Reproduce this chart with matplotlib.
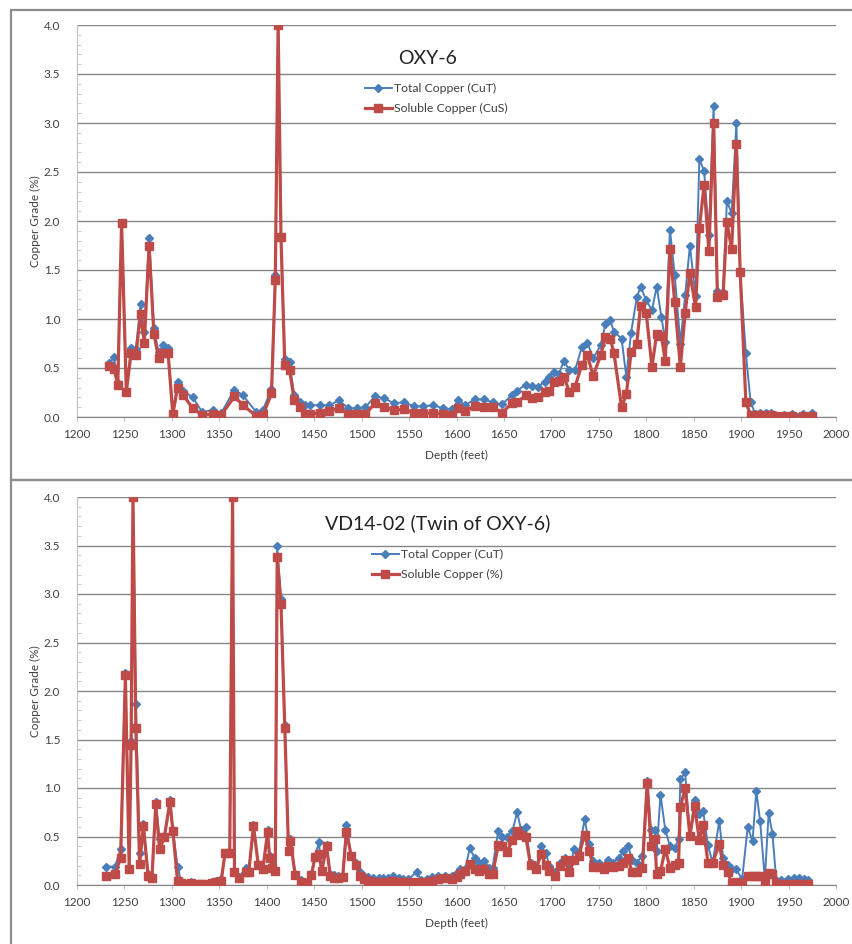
import matplotlib
matplotlib.use("Agg")
import matplotlib.pyplot as plt
from matplotlib.ticker import MultipleLocator
from matplotlib.patches import Rectangle

plt.rcParams['font.family'] = ['Lato', 'DejaVu Sans']

# OXY-6 (top)
depth_oxy = [1234, 1239, 1243, 1247, 1252, 1257, 1262, 1267, 1271, 1276,
             1281, 1286, 1291, 1296, 1301, 1306, 1312, 1322, 1332, 1343,
             1352, 1366, 1375, 1389, 1396, 1405, 1409, 1412, 1415, 1419,
             1424, 1429, 1435, 1440, 1446, 1456, 1466, 1476, 1486, 1495,
             1504, 1514, 1524, 1534, 1545, 1555, 1565, 1575, 1586, 1595,
             1602, 1609, 1619, 1629, 1638, 1648, 1658, 1664, 1673, 1680,
             1686, 1693, 1698, 1703, 1708, 1713, 1719, 1725, 1732, 1738,
             1744, 1752, 1757, 1762, 1766, 1774, 1779, 1784, 1790, 1794,
             1800, 1806, 1811, 1816, 1820, 1825, 1830, 1836, 1841, 1846,
             1852, 1856, 1861, 1866, 1871, 1875, 1881, 1885, 1890, 1895,
             1899, 1905, 1910, 1915, 1920, 1926, 1931, 1936, 1945, 1954,
             1965, 1975]
cut_oxy = [0.55, 0.61, 0.35, 1.98, 0.26, 0.70, 0.69, 1.15, 0.87, 1.83,
           0.91, 0.66, 0.73, 0.70, 0.04, 0.36, 0.27, 0.20, 0.05, 0.07,
           0.04, 0.28, 0.22, 0.05, 0.07, 0.29, 1.45, 4.00, 1.84, 0.59,
           0.56, 0.22, 0.15, 0.12, 0.12, 0.12, 0.12, 0.17, 0.09, 0.09,
           0.10, 0.21, 0.19, 0.14, 0.15, 0.11, 0.11, 0.12, 0.09, 0.08,
           0.17, 0.12, 0.18, 0.18, 0.15, 0.13, 0.22, 0.27, 0.33, 0.32,
           0.31, 0.36, 0.41, 0.46, 0.44, 0.57, 0.48, 0.48, 0.71, 0.76,
           0.60, 0.73, 0.95, 0.99, 0.87, 0.80, 0.41, 0.86, 1.22, 1.33,
           1.19, 1.09, 1.33, 1.02, 0.77, 1.91, 1.45, 0.75, 1.24, 1.75,
           1.23, 2.63, 2.51, 1.86, 3.17, 1.29, 1.28, 2.20, 2.08, 3.00,
           1.48, 0.65, 0.15, 0.03, 0.04, 0.04, 0.04, 0.02, 0.02, 0.03,
           0.03, 0.04]
cus_oxy = [0.52, 0.49, 0.33, 1.98, 0.26, 0.65, 0.63, 1.05, 0.76, 1.75,
           0.85, 0.60, 0.65, 0.65, 0.03, 0.30, 0.22, 0.09, 0.02, 0.03,
           0.02, 0.21, 0.12, 0.01, 0.02, 0.24, 1.40, 4.00, 1.84, 0.53,
           0.48, 0.17, 0.10, 0.03, 0.03, 0.04, 0.06, 0.09, 0.03, 0.03,
           0.03, 0.14, 0.10, 0.07, 0.08, 0.04, 0.04, 0.04, 0.03, 0.02,
           0.09, 0.06, 0.11, 0.10, 0.10, 0.04, 0.14, 0.15, 0.22, 0.19,
           0.20, 0.26, 0.27, 0.36, 0.37, 0.41, 0.26, 0.31, 0.53, 0.63,
           0.42, 0.63, 0.82, 0.80, 0.65, 0.10, 0.23, 0.66, 0.75, 1.13,
           1.06, 0.51, 0.85, 0.83, 0.57, 1.71, 1.17, 0.51, 1.06, 1.47,
           1.12, 1.93, 2.37, 1.69, 3.00, 1.22, 1.25, 1.99, 1.71, 2.79,
           1.48, 0.15, 0.02, 0.02, 0.02, 0.02, 0.02, 0.01, 0.01, 0.01,
           0.01, 0.01]

# VD14-02 (bottom)
depth_vd = [1231, 1240, 1246, 1251, 1255, 1257, 1259, 1262, 1266, 1270,
            1275, 1279, 1283, 1287, 1292, 1298, 1301, 1306, 1310, 1315,
            1320, 1326, 1331, 1336, 1342, 1347, 1352, 1356, 1361, 1364,
            1366, 1371, 1378, 1381, 1386, 1391, 1396, 1401, 1403, 1406,
            1409, 1411, 1415, 1419, 1423, 1425, 1430, 1436, 1442, 1447,
            1451, 1455, 1458, 1463, 1467, 1471, 1475, 1480, 1484, 1489,
            1494, 1498, 1502, 1507, 1512, 1518, 1523, 1528, 1533, 1539,
            1544, 1549, 1558, 1563, 1569, 1574, 1581, 1588, 1595, 1600,
            1604, 1609, 1614, 1619, 1624, 1629, 1634, 1638, 1644, 1648,
            1653, 1659, 1664, 1668, 1673, 1678, 1684, 1689, 1694, 1698,
            1704, 1709, 1714, 1719, 1724, 1729, 1735, 1740, 1744, 1750,
            1755, 1760, 1765, 1771, 1776, 1781, 1785, 1790, 1796, 1801,
            1805, 1809, 1811, 1815, 1820, 1825, 1830, 1834, 1836, 1841,
            1846, 1851, 1856, 1860, 1865, 1870, 1877, 1881, 1886, 1890,
            1895, 1901, 1907, 1912, 1916, 1920, 1925, 1929, 1933, 1937,
            1942, 1949, 1956, 1961, 1966, 1971]
cut_vd = [0.19, 0.19, 0.37, 2.19, 0.18, 1.48, 4.00, 1.87, 0.33, 0.63,
          0.11, 0.08, 0.86, 0.47, 0.50, 0.88, 0.57, 0.19, 0.02, 0.01,
          0.03, 0.01, 0.01, 0.01, 0.03, 0.04, 0.06, 0.33, 0.33, 4.00,
          0.14, 0.08, 0.18, 0.13, 0.62, 0.21, 0.18, 0.57, 0.30, 0.20,
          0.14, 3.49, 2.95, 1.65, 0.37, 0.47, 0.11, 0.05, 0.03, 0.11,
          0.30, 0.44, 0.14, 0.41, 0.11, 0.10, 0.09, 0.09, 0.62, 0.30,
          0.23, 0.13, 0.09, 0.08, 0.07, 0.07, 0.07, 0.07, 0.09, 0.07,
          0.06, 0.06, 0.13, 0.05, 0.06, 0.08, 0.09, 0.09, 0.09, 0.12,
          0.16, 0.16, 0.38, 0.28, 0.23, 0.25, 0.18, 0.18, 0.56, 0.50,
          0.50, 0.56, 0.75, 0.57, 0.60, 0.23, 0.18, 0.40, 0.33, 0.20,
          0.13, 0.23, 0.28, 0.16, 0.37, 0.33, 0.68, 0.42, 0.25, 0.23,
          0.19, 0.26, 0.23, 0.28, 0.35, 0.40, 0.26, 0.23, 0.30, 1.07,
          0.57, 0.57, 0.35, 0.93, 0.57, 0.40, 0.38, 0.47, 1.09, 1.16,
          0.52, 0.88, 0.73, 0.76, 0.41, 0.23, 0.66, 0.28, 0.21, 0.16,
          0.16, 0.06, 0.60, 0.45, 0.97, 0.66, 0.06, 0.74, 0.53, 0.05,
          0.05, 0.06, 0.07, 0.07, 0.06, 0.05]
cus_vd = [0.09, 0.11, 0.28, 2.16, 0.17, 1.44, 4.00, 1.62, 0.22, 0.61,
          0.09, 0.07, 0.83, 0.37, 0.49, 0.86, 0.56, 0.04, 0.02, 0.01,
          0.02, 0.01, 0.01, 0.01, 0.02, 0.03, 0.04, 0.33, 0.33, 4.00,
          0.13, 0.07, 0.13, 0.13, 0.61, 0.21, 0.17, 0.55, 0.28, 0.18,
          0.14, 3.38, 2.90, 1.62, 0.35, 0.45, 0.10, 0.03, 0.02, 0.10,
          0.29, 0.32, 0.14, 0.40, 0.09, 0.07, 0.07, 0.08, 0.55, 0.30,
          0.21, 0.09, 0.06, 0.04, 0.03, 0.03, 0.03, 0.03, 0.04, 0.03,
          0.03, 0.03, 0.03, 0.03, 0.03, 0.04, 0.06, 0.07, 0.06, 0.08,
          0.11, 0.14, 0.22, 0.16, 0.14, 0.16, 0.11, 0.11, 0.41, 0.40,
          0.34, 0.46, 0.56, 0.52, 0.50, 0.21, 0.16, 0.32, 0.21, 0.14,
          0.09, 0.20, 0.26, 0.13, 0.26, 0.30, 0.52, 0.35, 0.19, 0.19,
          0.16, 0.20, 0.19, 0.20, 0.23, 0.28, 0.13, 0.13, 0.18, 1.05,
          0.40, 0.47, 0.11, 0.14, 0.37, 0.18, 0.21, 0.23, 0.80, 1.00,
          0.51, 0.81, 0.46, 0.62, 0.23, 0.23, 0.42, 0.21, 0.13, 0.02,
          0.03, 0.02, 0.09, 0.09, 0.09, 0.09, 0.03, 0.12, 0.11, 0.02,
          0.01, 0.01, 0.01, 0.01, 0.01, 0.01]

BLUE = '#4A7EBB'
RED = '#BE4B48'
W, H = 852, 944

fig = plt.figure(figsize=(8.52, 9.44), dpi=100)

# outer panel borders (pixel -> figure fraction)
for top, bot in [(10, 480), (480, 946)]:
    fig.add_artist(Rectangle((11 / W, 1 - bot / H), 1.0, (bot - top) / H,
                             transform=fig.transFigure, fill=False,
                             edgecolor='#8c8c8c', linewidth=1.6))

panels = [
    (depth_oxy, cut_oxy, cus_oxy, 'OXY-6', 'Soluble Copper (CuS)', 25, 417, (428, 58), (365, 83)),
    (depth_vd, cut_vd, cus_vd, 'VD14-02 (Twin of OXY-6)', 'Soluble Copper (%)', 497, 885, (438, 523), (372, 549)),
]

for depth, cut, cus, title, sol_label, ytop, ybot, tpos, lpos in panels:
    ax = fig.add_axes([77 / W, 1 - ybot / H, (836 - 77) / W, (ybot - ytop) / H])
    ax.plot(depth, cut, color=BLUE, lw=1.4, marker='D', ms=3.6,
            label='Total Copper (CuT)', zorder=3)
    ax.plot(depth, cus, color=RED, lw=2.3, marker='s', ms=5.4,
            label=sol_label, zorder=4)

    ax.set_xlim(1200, 2000)
    ax.set_ylim(0, 4.0)
    ax.xaxis.set_major_locator(MultipleLocator(50))
    ax.yaxis.set_major_locator(MultipleLocator(0.5))
    ax.yaxis.set_minor_locator(MultipleLocator(0.1))
    ax.yaxis.set_major_formatter(plt.FormatStrFormatter('%.1f'))
    ax.grid(axis='y', color='#868686', lw=1.0)
    ax.set_axisbelow(True)

    for s in ['top', 'right']:
        ax.spines[s].set_visible(False)
    ax.spines['left'].set_color('#c0c0c0')
    ax.spines['bottom'].set_color('#868686')
    ax.tick_params(axis='y', which='major', length=0, pad=12, labelsize=8.5, labelcolor='#404040')
    ax.tick_params(axis='y', which='minor', direction='in', length=3, color='#c0c0c0')
    ax.tick_params(axis='x', length=3, color='#c0c0c0', pad=6, labelsize=8.5, labelcolor='#404040')

    ax.set_ylabel('Copper Grade (%)', fontsize=8.5, color='#404040')
    ax.yaxis.set_label_coords((41 - 77) / (836 - 77), 0.5)
    ax.set_xlabel('Depth (feet)', fontsize=8.5, color='#404040')
    ax.xaxis.set_label_coords(0.5, -0.085)

    ax.text((tpos[0] - 77) / (836 - 77), (ybot - tpos[1]) / (ybot - ytop), title,
            transform=ax.transAxes, ha='center', va='center', fontsize=14, color='#222222')

    ax.legend(loc='upper left',
              bbox_to_anchor=((lpos[0] - 77) / (836 - 77), (ybot - lpos[1]) / (ybot - ytop)),
              frameon=False, fontsize=8.8, borderpad=0, borderaxespad=0,
              handlelength=2.2, handletextpad=0.2, labelspacing=0.75,
              labelcolor='#404040')

fig.savefig('out.png', dpi=100)
